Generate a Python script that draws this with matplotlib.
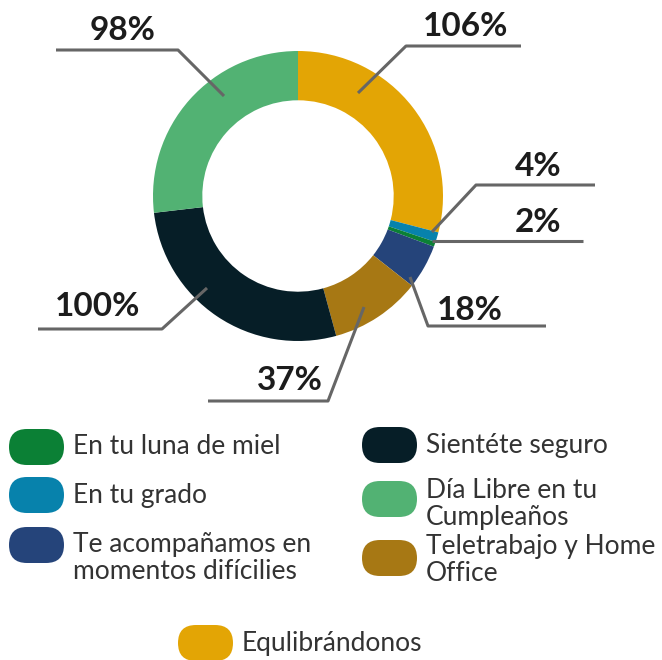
import matplotlib.pyplot as plt
from matplotlib.patches import FancyBboxPatch

# data, clockwise from the top
categories = ["Equlibrándonos", "En tu grado", "En tu luna de miel",
              "Te acompañamos en\nmomentos difícilies", "Teletrabajo y Home\nOffice",
              "Sientéte seguro", "Día Libre en tu\nCumpleaños"]
values = [106, 4, 2, 18, 37, 100, 98]
colors = ["#E3A505", "#0782AC", "#0B8035", "#25447A", "#A77814", "#061E27", "#52B273"]
value_labels = ["106%", "4%", "2%", "18%", "37%", "100%", "98%"]

W, H = 662, 660
fig = plt.figure(figsize=(W / 100, H / 100), dpi=100)

# donut
cx, cy, r = 298, 196, 145
ax = fig.add_axes([(cx - r) / W, 1 - (cy + r) / H, 2 * r / W, 2 * r / H])
ax.pie(values, colors=colors, startangle=90, counterclock=False,
       radius=1, wedgeprops=dict(width=0.34, linewidth=0))
ax.set_xlim(-1, 1)
ax.set_ylim(-1, 1)
ax.set_aspect("equal")
ax.axis("off")

# overlay in pixel coords for leader lines and legend
ov = fig.add_axes([0, 0, 1, 1])
ov.set_xlim(0, W)
ov.set_ylim(H, 0)
ov.axis("off")

# (anchor x, anchor y, elbow x, line y, line end x, text x, text y)
leaders = [
    (358, 93, 406, 46, 521, 466, 27),
    (432, 232, 476, 185, 595, 538, 166),
    (432, 241, 432, 241, 583, 538, 223),
    (410, 277, 428, 326, 546, 470, 311),
    (364, 307, 328, 401, 208, 290, 380),
    (207, 288, 162, 329, 38, 98, 306),
    (224, 96, 178, 50, 56, 123, 30),
]
for (axx, ayy, ex, ly, lx, tx, ty), lab in zip(leaders, value_labels):
    ov.plot([axx, ex, lx], [ayy, ly, ly], color="#666666", lw=2.2,
            solid_capstyle="butt")
    ov.text(tx, ty, lab, ha="center", va="center", fontsize=24,
            fontweight="bold", family="Lato", color="#1c1c1c")

# legend
legend_pos = {
    "En tu luna de miel": (9, 447),
    "En tu grado": (9, 495),
    "Te acompañamos en\nmomentos difícilies": (9, 545),
    "Sientéte seguro": (362, 445),
    "Día Libre en tu\nCumpleaños": (362, 499),
    "Teletrabajo y Home\nOffice": (362, 558),
    "Equlibrándonos": (178, 643),
}
text_dy = {"Te acompañamos en\nmomentos difícilies": 13,
           "Día Libre en tu\nCumpleaños": 5,
           "Teletrabajo y Home\nOffice": 2}
for cat, col in zip(categories, colors):
    x, y = legend_pos[cat]
    ov.add_patch(FancyBboxPatch((x, y - 18), 55, 36,
                                boxstyle="round,pad=0,rounding_size=18",
                                fc=col, ec="none"))
    ov.text(x + 64, y + text_dy.get(cat, 0), cat, ha="left", va="center",
            fontsize=19, family="Lato", color="#333333", linespacing=1.08)

fig.savefig("out.png", dpi=100)
